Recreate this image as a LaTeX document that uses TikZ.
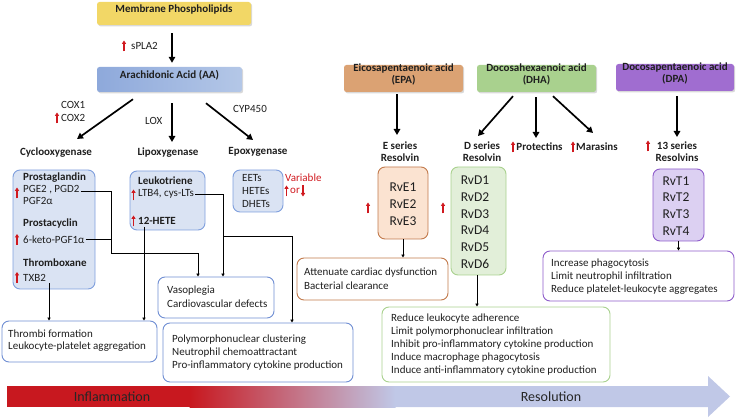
\documentclass[tikz,border=0pt]{standalone}
\usepackage{fontspec}
\setmainfont{Carlito}
\usetikzlibrary{arrows.meta,fit,shadows,calc}
\definecolor{memy}{HTML}{F2D766}
\definecolor{aaL}{HTML}{8EA9DB}
\definecolor{aaR}{HTML}{B4C7E7}
\definecolor{epac}{HTML}{DBA273}
\definecolor{dhac}{HTML}{A9D18E}
\definecolor{dpac}{HTML}{A06DD0}
\definecolor{lblue}{HTML}{DAE3F3}
\definecolor{bblue}{HTML}{7F9FDD}
\definecolor{wblue}{HTML}{6F8ED3}
\definecolor{rvefill}{HTML}{FBE3D1}
\definecolor{rvedraw}{HTML}{C27A4C}
\definecolor{rvdfill}{HTML}{E2EFD9}
\definecolor{rvddraw}{HTML}{A9D18E}
\definecolor{rvtfill}{HTML}{DCD0F2}
\definecolor{rvtdraw}{HTML}{8E5CCB}
\definecolor{redm}{HTML}{D0191F}
\definecolor{infl}{HTML}{C8181F}
\definecolor{resol}{HTML}{C0C8E7}
\newcommand\myfs[1]{\fontsize{#1}{#1}\selectfont}
\newcommand\redup[2]{\draw[redarr] (#1,#2+5.5) -- (#1,#2-5.5);}
\newcommand\reddn[2]{\draw[redarr] (#1,#2-5.5) -- (#1,#2+5.5);}
\begin{document}
\begin{tikzpicture}[x=1pt,y=-1pt,
  t/.style={font=\myfs{11}, inner sep=0, anchor=west, text=black!88},
  tb/.style={t, font=\myfs{11}\bfseries},
  hdr/.style={font=\myfs{11}\bfseries, inner sep=0, align=center, text=black!88},
  rv/.style={font=\myfs{13.5}, inner sep=0, text=black!88},
  big/.style={line width=1.7pt, -{Triangle[length=6pt,width=6.5pt]}},
  conn/.style={line width=0.8pt, -{Triangle[length=3pt,width=3.2pt]}},
  redarr/.style={draw=redm, line width=1.3pt, -{Triangle[length=3.5pt,width=4.2pt]}},
  topbox/.style={rounded corners=2.5pt, inner sep=0, font=\myfs{11}\bfseries, align=center, text=black!88,
     drop shadow={shadow xshift=1.2pt,shadow yshift=-1.4pt,opacity=0.3}},
  panel/.style={rounded corners=7pt, line width=0.9pt, inner sep=0},
]
\useasboundingbox (0,0) rectangle (738,419);

% ---------- top boxes ----------
\node[topbox, fill=memy, fit={(97,2) (251,25)}] (mem) {Membrane Phospholipids};
\node[topbox, left color=aaL, right color=aaR, fit={(97,67) (242,92)}] (aa) {Arachidonic Acid (AA)};
\node[topbox, fill=epac, fit={(344,65) (463,92)}] (epa) {Eicosapentaenoic acid\\[1pt](EPA)};
\node[topbox, fill=dhac, fit={(477,65) (596,92)}] (dha) {Docosahexaenoic acid\\[1pt](DHA)};
\node[topbox, fill=dpac, fit={(616,64) (734,91)}] (dpa) {Docosapentaenoic acid\\[1pt](DPA)};

% ---------- labels of the left pathway ----------
\node[t] (spla) at (131,46) {sPLA2};
\redup{124}{46}
\node[t] (cox1) at (61,105) {COX1};
\node[t] (cox2) at (61,118) {COX2};
\redup{57}{118}
\node[t] (lox) at (145,121) {LOX};
\node[t] (cyp) at (233,109) {CYP450};
\node[hdr] (coxl) at (56,153) {Cyclooxygenase};
\node[hdr] (lipl) at (168,153) {Lipoxygenase};
\node[hdr] (epol) at (258,152) {Epoxygenase};

\draw[big] ([xshift=-2pt,yshift=-8pt]mem.south) -- ([xshift=2.5pt,yshift=4pt]aa.north);
\draw[big] ([xshift=-36.5pt,yshift=-7pt]aa.south) -- ([xshift=21pt,yshift=14pt]coxl.center);
\draw[big] ([xshift=2.5pt,yshift=-11pt]aa.south) -- ([xshift=4pt,yshift=11pt]lipl.center);
\draw[big] ([xshift=36.5pt,yshift=-11pt]aa.south) -- ([xshift=-5pt,yshift=12pt]epol.center);

% ---------- left panels ----------
\node[panel, draw=bblue, fill=lblue, fit={(13,170) (95,289)}] (pgbox) {};
\node[tb] (pgh) at (23,178) {Prostaglandin};
\node[t] (pge) at (23,189.5) {PGE2 , PGD2};
\node[t] (pgf) at (23,200.5) {PGF2α};
\node[tb] (pch) at (23,224) {Prostacyclin};
\node[t] (keto) at (23,239.5) {6-keto-PGF1α};
\node[tb] (txh) at (23,263) {Thromboxane};
\node[t] (txb) at (23,277.5) {TXB2};
\redup{17}{193}
\redup{17}{239.5}
\redup{17}{277.5}

\node[panel, draw=bblue, fill=lblue, fit={(130,171) (205,230)}] (ltbox) {};
\node[tb] (lth) at (138,181) {Leukotriene};
\node[t] (ltb) at (138,194) {LTB4, cys-LTs};
\node[tb] (hete) at (138,221) {12-HETE};
\redup{133.5}{195}
\redup{133.5}{221}

\node[panel, draw=bblue, fill=lblue, fit={(233,170) (283,212)}] (eetbox) {};
\node[t] (eet) at (242,178) {EETs};
\node[t] (hetes) at (242,191) {HETEs};
\node[t] (dhet) at (242,204) {DHETs};
\node[t, text=redm] (var) at (285,178) {Variable};
\node[t, text=redm] (orx) at (290,191) {or};
\redup{286.5}{191}
\reddn{303}{191}

\node[panel, draw=wblue, fill=white, fit={(158,277) (274,318)}] (vaso) {};
\node[t] at (167,291) {Vasoplegia};
\node[t] at (167,304) {Cardiovascular defects};

\node[panel, draw=wblue, fill=white, fit={(2,321) (157,362)}] (thr) {};
\node[t] at (8,334) {Thrombi formation};
\node[t] at (8,347) {Leukocyte-platelet aggregation};

\node[panel, draw=wblue, fill=white, fit={(163,323) (353,382)}] (pmn) {};
\node[t] at (172,340) {Polymorphonuclear clustering};
\node[t] at (172,353) {Neutrophil chemoattractant};
\node[t] at (172,366) {Pro-inflammatory cytokine production};

% left connectors
\coordinate (jA) at (111,253);
\coordinate (jB) at (223,236);
\draw[line width=0.8pt] ([xshift=1pt,yshift=-1.5pt]pge.east) -| (jA);
\draw[line width=0.8pt] ([xshift=1pt]keto.east) -- (keto.east -| jA);
\draw[conn] (jA) -| ([xshift=-18pt]vaso.north);
\draw[conn] ([xshift=1pt]ltb.east) -| ([xshift=7pt]vaso.north);
\draw[conn] (jB) -| ([xshift=34pt]pmn.north);
\draw[conn] ([xshift=6pt,yshift=-2pt]hete.south west) -- ([xshift=6pt]hete.south west |- thr.north);
\draw[conn] ([xshift=3pt,yshift=-2pt]txb.south east) -- ([xshift=3pt]txb.south east |- thr.north);

% ---------- right side ----------
\node[hdr] (esl) at (400,152) {E series\\[1pt]Resolvin};
\node[hdr] (dsl) at (482,152) {D series\\[1pt]Resolvin};
\node[hdr] (protl) at (539.5,147) {Protectins};
\node[hdr] (maral) at (597,147) {Marasins};
\node[hdr] (tsl) at (677,151.5) {13 series\\[1pt]Resolvins};
\redup{513}{147}
\redup{573}{147}
\redup{648}{146}

\draw[big] ([xshift=-6.5pt,yshift=-2pt]epa.south) -- ([xshift=-3pt,yshift=17pt]esl.center);
\draw[big] ([xshift=-23.5pt,yshift=-4pt]dha.south) -- ([xshift=-4pt,yshift=16pt]dsl.center);
\draw[big] ([xshift=-0.5pt,yshift=-5pt]dha.south) -- ([xshift=-3.5pt,yshift=9pt]protl.center);
\draw[big] ([xshift=16.5pt,yshift=-4pt]dha.south) -- ([xshift=-4pt,yshift=14pt]maral.center);
\draw[big] ([xshift=2pt,yshift=-5pt]dpa.south) -- ([yshift=14.5pt]tsl.center);

\node[panel, draw=rvedraw, fill=rvefill, fit={(378,167) (428,239)}] (rve) {};
\node[rv] at (403,187) {RvE1};
\node[rv] at (403,204) {RvE2};
\node[rv] at (403,221) {RvE3};
\redup{368}{208}

\node[panel, draw=rvddraw, fill=rvdfill, fit={(451,167) (506,275)}] (rvd) {};
\foreach \i/\yy in {1/180,2/197,3/214,4/230.5,5/247,6/264}
  \node[rv] at (475,\yy) {RvD\i};
\redup{443}{208}

\node[panel, draw=rvtdraw, fill=rvtfill, fit={(653,169) (704,241)}] (rvt) {};
\foreach \i/\yy in {1/181,2/197.5,3/214,4/231}
  \node[rv] at (676,\yy) {RvT\i};

\node[panel, draw=rvedraw, fill=white, fit={(297,258) (448,300)}] (att) {};
\node[t] at (304,273) {Attenuate cardiac dysfunction};
\node[t] at (304,286) {Bacterial clearance};

\node[panel, draw=rvddraw, fill=white, fit={(382,307) (610,382)}] (red) {};
\node[t] at (391,318.5) {Reduce leukocyte adherence};
\node[t] at (391,332) {Limit polymorphonuclear infiltration};
\node[t] at (391,345) {Inhibit pro-inflammatory cytokine production};
\node[t] at (391,358) {Induce macrophage phagocytosis};
\node[t] at (391,371) {Induce anti-inflammatory cytokine production};

\node[panel, draw=rvtdraw, fill=white, fit={(543,251) (734,301)}] (inc) {};
\node[t] at (551,263.5) {Increase phagocytosis};
\node[t] at (551,277) {Limit neutrophil infiltration};
\node[t] at (551,290) {Reduce platelet-leukocyte aggregates};

\draw[conn] (rve.south) -- (rve.south |- att.north);
\draw[conn] ([xshift=-1.5pt]rvd.south) -- ([xshift=-1.5pt]rvd.south |- red.north);
\draw[conn] (rvt.south) -- (rvt.south |- inc.north);

% ---------- bottom bar ----------
\fill[infl] (7,386) rectangle (190,407);
\shade[left color=infl, right color=resol] (189.5,386) rectangle (395.5,407);
\fill[resol] (395,386) -- (708,386) -- (708,376) -- (730,396.5) -- (708,417) -- (708,407) -- (395,407) -- cycle;
\node[font=\myfs{14}, inner sep=0, text=black!85] (inflt) at (112,396.5) {Inflammation};
\node[font=\myfs{14}, inner sep=0, text=black!85] (rest) at (551,397) {Resolution};
\end{tikzpicture}
\end{document}
